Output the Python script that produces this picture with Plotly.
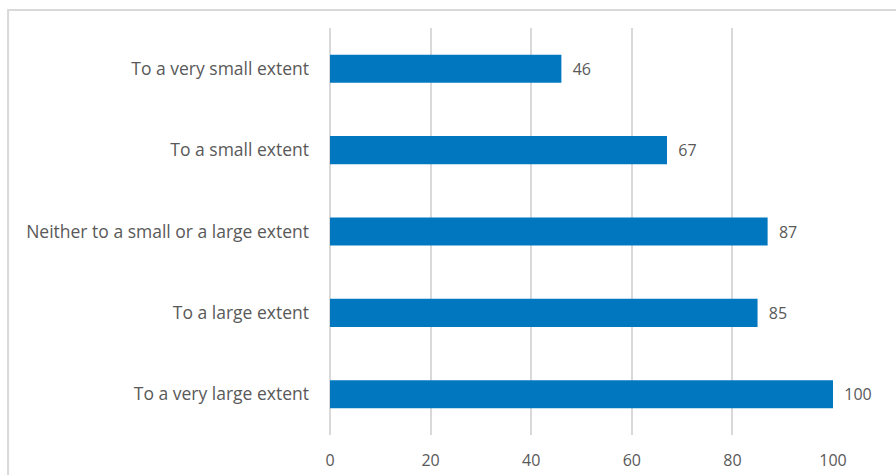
import plotly.graph_objects as go

# Survey responses, listed bottom-to-top as drawn
categories = [
    "To a very large extent",
    "To a large extent",
    "Neither to a small or a large extent",
    "To a small extent",
    "To a very small extent",
]
values = [100, 85, 87, 67, 46]
x_ticks = [0, 20, 40, 60, 80, 100]

FONT = "Open Sans, Roboto, sans-serif"
TEXT = "#595959"
GRID = "#D9D9D9"

fig = go.Figure(
    go.Bar(
        x=values,
        y=categories,
        orientation="h",
        marker=dict(color="#0077BF", line=dict(width=0)),
        width=0.345,
        text=values,
        texttemplate="  %{x}",
        textposition="outside",
        textfont=dict(family=FONT, size=16, color=TEXT),
        cliponaxis=False,
        hoverinfo="skip",
    )
)

fig.update_layout(
    width=896,
    height=475,
    margin=dict(l=330, r=63, t=28, b=40),
    paper_bgcolor="white",
    plot_bgcolor="white",
    showlegend=False,
    font=dict(family=FONT, size=16, color=TEXT),
    xaxis=dict(
        range=[0, 100],
        tickvals=x_ticks,
        showgrid=True,
        gridcolor=GRID,
        gridwidth=1.5,
        zeroline=True,
        zerolinecolor=GRID,
        zerolinewidth=1.5,
        showline=False,
        ticks="",
        ticklabelstandoff=14,
        tickfont=dict(family=FONT, size=16, color=TEXT),
        automargin=False,
        fixedrange=True,
    ),
    yaxis=dict(
        categoryorder="array",
        categoryarray=categories,
        showgrid=False,
        showline=False,
        ticks="",
        ticklabelstandoff=20,
        tickfont=dict(family=FONT, size=17.5, color=TEXT),
        automargin=False,
        fixedrange=True,
    ),
    shapes=[
        dict(
            type="rect",
            xref="paper",
            yref="paper",
            x0=-0.640,
            x1=1.14,
            y0=-0.12,
            y1=1.044,
            line=dict(color=GRID, width=2),
            fillcolor="rgba(0,0,0,0)",
            layer="below",
        )
    ],
)

fig.write_html("out.html")
